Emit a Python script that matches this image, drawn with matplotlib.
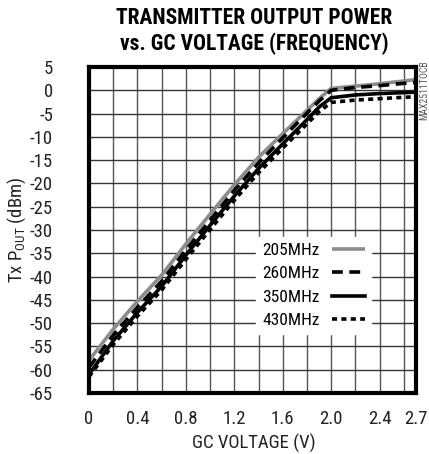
import matplotlib
matplotlib.use("Agg")
import matplotlib.pyplot as plt
from matplotlib import font_manager

gc_v = [0.0, 0.2, 0.4, 0.6, 0.8, 1.0, 1.2, 1.4, 1.6, 1.8, 1.9, 2.0, 2.2, 2.4, 2.6, 2.7]
p_205 = [-58.0, -51.3, -45.3, -39.7, -33.0, -26.6, -20.3, -14.4, -9.3, -4.3, -1.8, 0.4, 0.9, 1.4, 2.0, 2.3]
p_260 = [-59.5, -52.6, -46.6, -41.0, -34.3, -27.9, -21.5, -15.6, -10.2, -4.9, -2.3, 0.0, 0.6, 1.0, 1.5, 1.7]
p_350 = [-61.0, -53.8, -47.7, -42.1, -35.4, -29.0, -22.7, -16.8, -11.5, -6.3, -3.6, -1.6, -1.0, -0.7, -0.5, -0.4]
p_430 = [-61.5, -54.6, -48.5, -42.9, -36.3, -29.9, -23.6, -17.7, -12.4, -7.2, -4.6, -2.6, -2.1, -1.8, -1.5, -1.4]
labels = ['205MHz', '260MHz', '350MHz', '430MHz']

x_ticks = [0, 0.4, 0.8, 1.2, 1.6, 2.0, 2.4, 2.7]
x_ticklabels = ['0', '0.4', '0.8', '1.2', '1.6', '2.0', '2.4', '2.7']
y_ticks = list(range(5, -70, -5))

# ---- font choice: prefer a condensed sans ----
entries = font_manager.fontManager.ttflist
names = {f.name for f in entries}
family = None
stretch = 'normal'
for cand in ['Liberation Sans Narrow', 'Roboto Condensed', 'Open Sans Condensed',
             'DejaVu Sans Condensed', 'Noto Sans Condensed']:
    if cand in names:
        family = cand
        break
if family is None:
    for f in entries:
        if f.name == 'DejaVu Sans' and str(f.stretch) in ('condensed', 'semi-condensed'):
            family = 'DejaVu Sans'
            stretch = 'condensed'
            break
if family is None:
    for f in entries:
        if 'Narrow' in f.name or 'Condensed' in f.name:
            family = f.name
            break
condensed = family is not None
if family is None:
    family = 'Liberation Sans'
plt.rcParams['font.family'] = [family, 'DejaVu Sans']
plt.rcParams['font.stretch'] = stretch
sc = 1.0 if condensed else 0.88

fig = plt.figure(figsize=(4.29, 4.54), dpi=100)
ax = fig.add_axes([89/429, 61/454, 327/429, 326/454])

for xv in [i * 0.2 for i in range(1, 14)]:
    ax.axvline(xv, color='#555555', lw=1.0, zorder=1)
for yv in range(0, -65, -5):
    ax.axhline(yv, color='#333333', lw=1.0, zorder=1)

ax.plot(gc_v, p_205, color='#8c8c8c', lw=2.6, solid_capstyle='butt', label=labels[0], zorder=3)
ax.plot(gc_v, p_260, color='black', lw=2.6, dashes=(3.0, 1.8), label=labels[1], zorder=3)
ax.plot(gc_v, p_350, color='black', lw=2.6, label=labels[2], zorder=3)
ax.plot(gc_v, p_430, color='black', lw=2.6, dashes=(1.4, 1.2), label=labels[3], zorder=3)

ax.set_xlim(0, 2.7)
ax.set_ylim(-65, 5)
ax.set_xticks(x_ticks)
ax.set_xticklabels(x_ticklabels)
ax.set_yticks(y_ticks)
ax.set_yticklabels([str(v) for v in y_ticks])
ax.tick_params(length=0, labelsize=13.5 * sc, colors='#222222')
ax.tick_params(axis='y', pad=26)
ax.tick_params(axis='x', pad=12)
for s in ax.spines.values():
    s.set_linewidth(3)
    s.set_color('black')
    s.set_zorder(5)

leg = ax.legend(loc='lower right', bbox_to_anchor=(0.862, 0.18), frameon=True,
                prop={'size': 12.5 * sc}, handlelength=1.9, markerfirst=False,
                handletextpad=0.7, labelspacing=0.48, borderpad=0.35,
                fancybox=False, framealpha=1.0, edgecolor='white',
                borderaxespad=0)
leg.set_zorder(4)

fig.text(254/429, 1 - 443/454, 'GC VOLTAGE (V)', ha='center', va='center',
         fontsize=13.5 * sc, color='#222222')
fig.text(17/429, 1 - 230/454, r'Tx P$_{\mathregular{OUT}}$ (dBm)', rotation=90,
         ha='center', va='center', fontsize=13.5 * sc, color='#222222')

fig.text(254/429, 1 - 31/454, 'TRANSMITTER OUTPUT POWER\nvs. GC VOLTAGE (FREQUENCY)',
         ha='center', va='center', fontsize=(15.5 if condensed else 12.5),
         fontweight='bold', linespacing=1.15)
fig.text(424/429, 1 - 90/454, 'MAX2511TOCB', rotation=90, ha='center', va='center',
         fontsize=7, color='#555555')

fig.savefig('out.png', dpi=100)
